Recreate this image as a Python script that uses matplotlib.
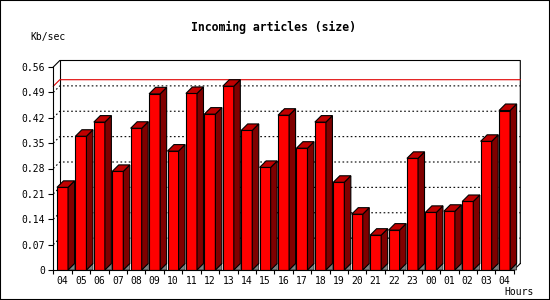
import matplotlib
matplotlib.use('Agg')
from matplotlib import pyplot as plt
from matplotlib.patches import Polygon, Rectangle

# Data
hours = ['04', '05', '06', '07', '08', '09', '10', '11', '12', '13', '14', '15', '16',
         '17', '18', '19', '20', '21', '22', '23', '00', '01', '02', '03', '04']
values = [0.228, 0.369, 0.408, 0.272, 0.391, 0.486, 0.328, 0.487, 0.430, 0.507, 0.385, 0.283, 0.427,
          0.336, 0.408, 0.242, 0.154, 0.096, 0.110, 0.308, 0.159, 0.162, 0.189, 0.355, 0.440]
y_ticks = [0, 0.07, 0.14, 0.21, 0.28, 0.35, 0.42, 0.49, 0.56]
y_labels = ['0', '0.07', '0.14', '0.21', '0.28', '0.35', '0.42', '0.49', '0.56']

font = 'DejaVu Sans Mono'
lw = 0.8
depth_px = 6.5

fig = plt.figure(figsize=(5.5, 3.0), dpi=100)
ax = fig.add_axes([53.3 / 550, 30 / 300, 460.5 / 550, 203 / 300])
n = len(values)
ax.set_xlim(-0.5, n - 0.5)
ax.set_ylim(0, 0.56)

# depth of the 3d effect in data units
dx = depth_px / (460.5 / n)
dy = depth_px / (203 / 0.56)
x0, x1 = -0.5, n - 0.5
ytop = 0.56

# back plane frame
ax.plot([x0, x0 + dx, x1 + dx, x1 + dx], [ytop, ytop + dy, ytop + dy, dy], color='black', lw=lw, clip_on=False, zorder=1)
ax.plot([x0 + dx, x0 + dx], [dy, ytop + dy], color='black', lw=lw, clip_on=False, zorder=1)
ax.plot([x1, x1 + dx], [0, dy], color='black', lw=lw, clip_on=False, zorder=1)

# dashed grid on back plane
for v in y_ticks[1:-1]:
    ax.plot([x0, x0 + dx, x1 + dx], [v, v + dy, v + dy], color='black', lw=lw,
            linestyle=(0, (1.5, 2.2)), clip_on=False, zorder=1)

# max line
vmax = max(values)
ax.plot([x0, x0 + dx, x1 + dx], [vmax, vmax + dy, vmax + dy], color='#e00000', lw=lw, clip_on=False, zorder=1.5)

# bars
w = 0.6
xs = list(range(n))
ax.bar(xs, values, width=w, color='#ff0000', edgecolor='black', linewidth=lw, zorder=3)
for x, v in zip(xs, values):
    l, r = x - w / 2, x + w / 2
    floor = Polygon([(r, 0), (r + dx, dy), (r + dx, 0)], closed=True, facecolor='#808080',
                    edgecolor='black', linewidth=lw * 0.5, zorder=2, clip_on=False)
    side = Polygon([(r, 0), (r + dx, dy), (r + dx, v + dy), (r, v)], closed=True, facecolor='#800000',
                   edgecolor='black', linewidth=lw, zorder=3, clip_on=False)
    top = Polygon([(l, v), (l + dx, v + dy), (r + dx, v + dy), (r, v)], closed=True, facecolor='#c00000',
                  edgecolor='black', linewidth=lw, zorder=3, clip_on=False)
    ax.add_patch(floor)
    ax.add_patch(side)
    ax.add_patch(top)

# axes
ax.set_facecolor('none')
for s in ['top', 'right']:
    ax.spines[s].set_visible(False)
for s in ['left', 'bottom']:
    ax.spines[s].set_linewidth(lw)
    ax.spines[s].set_zorder(4)
ax.set_yticks(y_ticks)
ax.set_yticklabels(y_labels, family=font, fontsize=7)
ax.tick_params(axis='y', length=3.6, width=lw, pad=2.5)
ax.set_xticks(xs)
ax.set_xticklabels(hours, family=font, fontsize=7)
ax.set_xticks([x - 0.5 for x in range(n + 1)], minor=True)
ax.tick_params(axis='x', which='major', length=0, pad=4)
ax.tick_params(axis='x', which='minor', length=3, width=lw)

fig.text(273.7 / 550, 1 - 27 / 300, 'Incoming articles (size)', family=font, fontsize=8.3,
         fontweight='bold', ha='center', va='center')
fig.text(30 / 550, 1 - 37 / 300, 'Kb/sec', family=font, fontsize=7, ha='left', va='center')
fig.text(504 / 550, 1 - 292 / 300, 'Hours', family=font, fontsize=7, ha='left', va='center')

fig.add_artist(Rectangle((0, 0), 1, 1, transform=fig.transFigure, fill=False, edgecolor='black', linewidth=1.5))

plt.savefig('out.png', dpi=100)
